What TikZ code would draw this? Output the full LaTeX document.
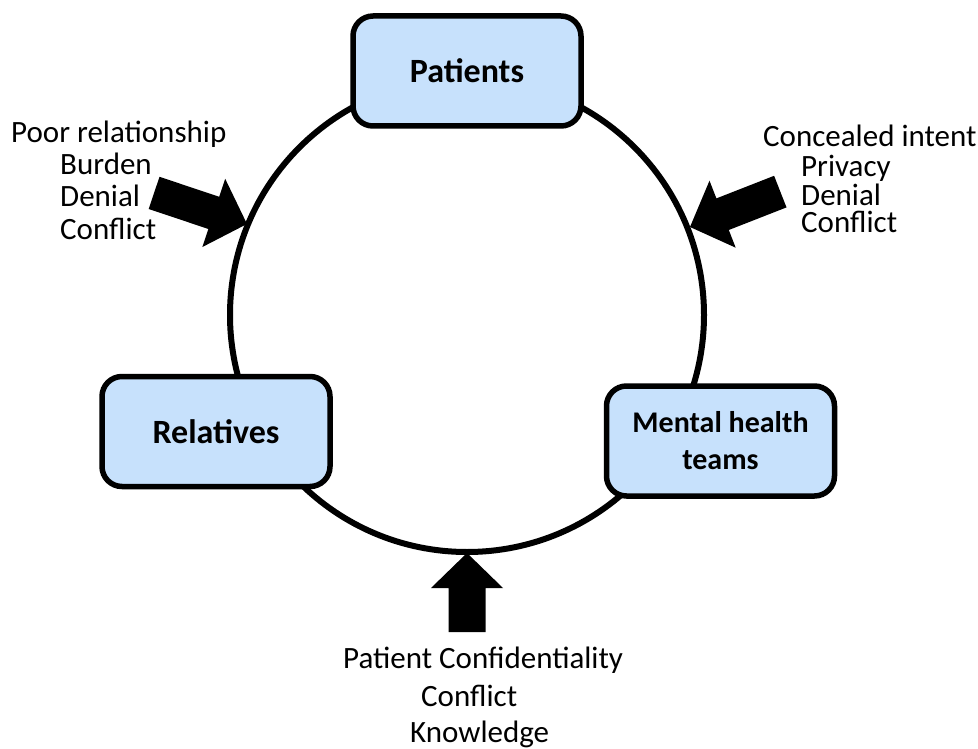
\documentclass[tikz,border=0pt]{standalone}
\usepackage{fontspec}
\setmainfont{Carlito}
\definecolor{boxblue}{RGB}{199,225,252}
\begin{document}
\begin{tikzpicture}[x=1pt,y=-1pt,
  entity/.style={draw=black, line width=5.5pt, fill=boxblue, rounded corners=20pt,
    minimum width=228pt, minimum height=110pt, inner sep=0pt, align=center,
    font=\fontsize{34}{37}\selectfont\bfseries},
  lbl/.style={anchor=base west, inner sep=0pt, font=\fontsize{31}{32}\selectfont},
  blockarrow/.style={fill=black, draw=none}]
\useasboundingbox (0,0) rectangle (978,749);
% ring
\node[circle, draw=black, line width=6pt, minimum size=474pt, inner sep=0pt] (ring) at (467,315) {};
% entities
\node[entity] (patients) at (467,71) {Patients};
\node[entity] (relatives) at (216,431.5) {Relatives};
\node[entity, font=\fontsize{30}{37}\selectfont\bfseries] (mht) at (720.5,441) {Mental health\\teams};
% block arrows
\fill[blockarrow] (247,224) -- (225.2,178.8) -- (219.2,196.8) -- (159.5,176.8) -- (148.7,209.0) -- (208.4,229.0) -- (202.4,247.0) -- cycle;
\fill[blockarrow] (690,227) -- (709.5,180.7) -- (716.4,198.4) -- (774.1,175.8) -- (786.5,207.4) -- (728.8,230.0) -- (735.7,247.7) -- cycle;
\fill[blockarrow] (467,553) -- (503,588) -- (485.5,588) -- (485.5,632) -- (448.5,632) -- (448.5,588) -- (431,588) -- cycle;
% left labels
\node[lbl] (l1) at (11,143) {Poor relationship};
\node[lbl] (l2) at (60,175) {Burden};
\node[lbl] (l3) at (60,207) {Denial};
\node[lbl] (l4) at (60,240) {Conflict};
% right labels
\node[lbl] (r1) at (763,147) {Concealed intent};
\node[lbl] (r2) at (801,177) {Privacy};
\node[lbl] (r3) at (801,205) {Denial};
\node[lbl] (r4) at (801,233) {Conflict};
% bottom labels
\node[lbl] (b1) at (343,668) {Patient Confidentiality};
\node[lbl] (b2) at (421,706) {Conflict};
\node[lbl] (b3) at (410,742) {Knowledge};
\end{tikzpicture}
\end{document}
